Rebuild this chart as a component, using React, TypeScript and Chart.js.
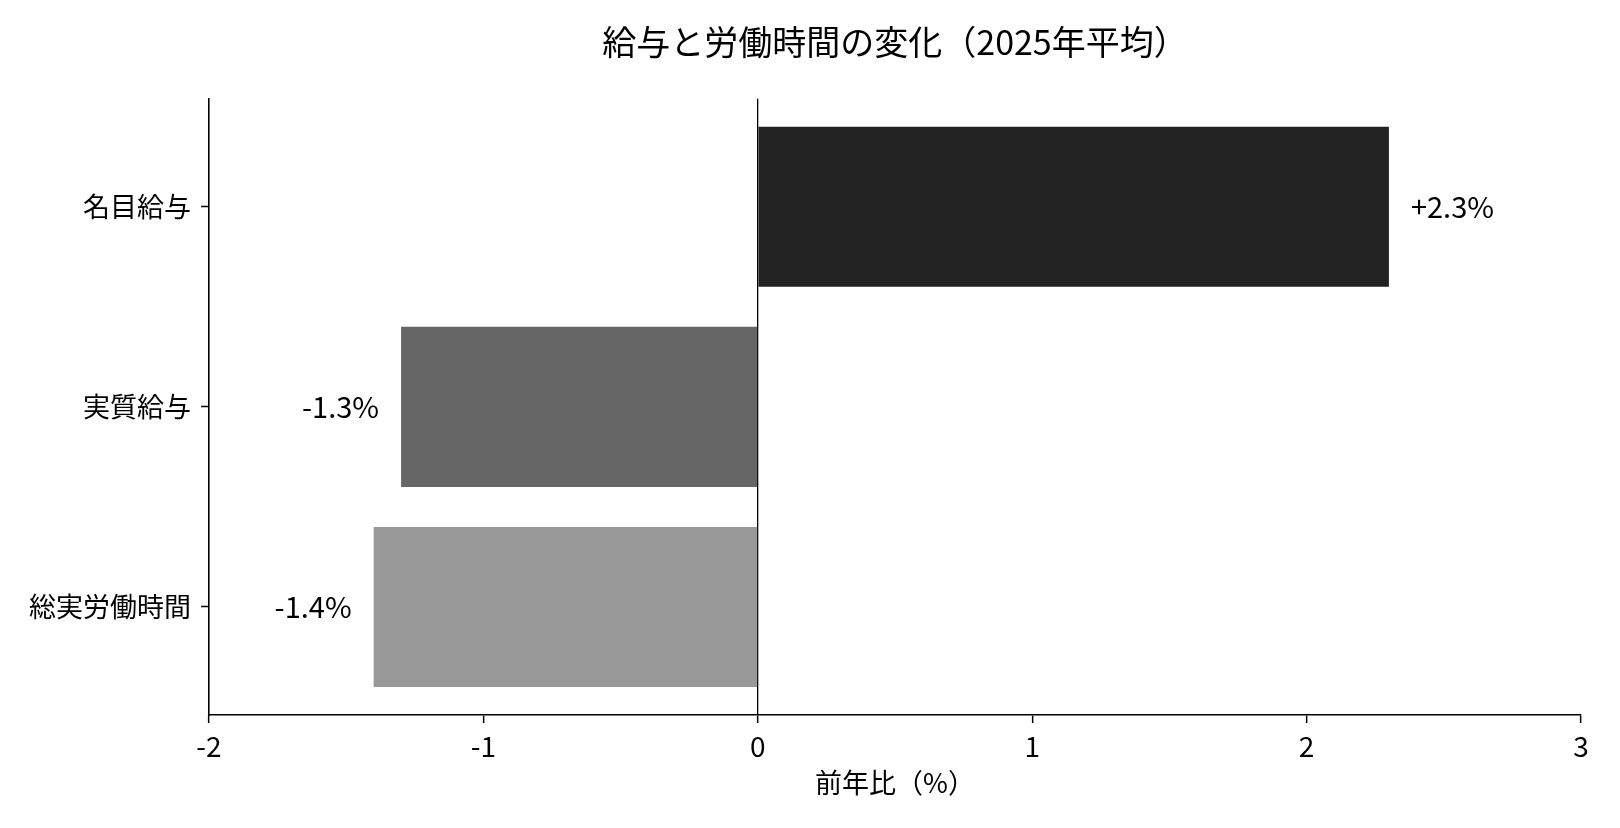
import { useEffect, useRef } from "react";
import { Chart, registerables } from "chart.js";

Chart.register(...registerables);

// データ
const categories = ["名目給与", "実質給与", "総実労働時間"];
const changes = [2.3, -1.3, -1.4];
const barColors = ["#222222", "#666666", "#999999"];
const xTicks = [-2, -1, 0, 1, 2, 3];

const FONT = "'Noto Sans CJK JP', 'Noto Sans', sans-serif";

const formatPct = (v: number) => (v > 0 ? "+" : "") + v.toFixed(1) + "%";

// バーの端に値ラベルを描く
const valueLabels = {
  id: "valueLabels",
  afterDatasetsDraw(chart: any) {
    const { ctx } = chart;
    const meta = chart.getDatasetMeta(0);
    ctx.save();
    ctx.font = `29px ${FONT}`;
    ctx.fillStyle = "#000";
    ctx.textBaseline = "middle";
    meta.data.forEach((bar: any, i: number) => {
      const v = changes[i];
      if (v >= 0) {
        ctx.textAlign = "left";
        ctx.fillText(formatPct(v), bar.x + 22, bar.y);
      } else {
        ctx.textAlign = "right";
        ctx.fillText(formatPct(v), bar.x - 22, bar.y);
      }
    });
    ctx.restore();
  },
};

export default function App() {
  const chartRef = useRef<Chart | null>(null);
  const canvasRef = useRef<HTMLCanvasElement>(null);

  useEffect(() => {
    if (!canvasRef.current) return;
    const ctx = canvasRef.current.getContext("2d");
    if (!ctx) return;

    if (chartRef.current) chartRef.current.destroy();

    chartRef.current = new Chart(ctx, {
      type: "bar",
      data: {
        datasets: [
          {
            data: changes.map((v, i) => ({ x: v, y: i })),
            backgroundColor: barColors,
            borderWidth: 0,
            barPercentage: 0.8,
            categoryPercentage: 1,
          },
        ],
      },
      options: {
        indexAxis: "y",
        animation: false,
        responsive: true,
        maintainAspectRatio: false,
        layout: { padding: { left: 0, right: 39, top: 0, bottom: 0 } },
        plugins: {
          legend: { display: false },
          tooltip: { enabled: false },
          title: {
            display: true,
            text: "給与と労働時間の変化（2025年平均）",
            fullSize: false,
            color: "#000",
            font: { family: FONT, size: 34, weight: "normal" },
            padding: { top: 22, bottom: 36 },
          },
        },
        scales: {
          x: {
            type: "linear",
            min: -2,
            max: 3,
            afterBuildTicks: (axis: any) => {
              axis.ticks = xTicks.map((v) => ({ value: v }));
            },
            afterFit: (scale: any) => {
              scale.height = 113;
            },
            ticks: {
              color: "#000",
              font: { family: FONT, size: 28 },
              padding: 7,
              callback: (v: any) => String(v),
            },
            grid: {
              color: (c: any) =>
                c.tick && c.tick.value === 0 ? "#000" : "rgba(0,0,0,0)",
              lineWidth: 1.3,
              tickColor: "#000",
              tickLength: 8,
              tickWidth: 1.5,
            },
            border: { display: true, color: "#000", width: 1.6 },
            title: {
              display: true,
              text: "前年比（%）",
              color: "#000",
              font: { family: FONT, size: 27 },
              padding: { top: 0, bottom: 29 },
            },
          },
          y: {
            type: "linear",
            min: -0.54,
            max: 2.54,
            reverse: true,
            offset: false,
            afterBuildTicks: (axis: any) => {
              axis.ticks = categories.map((_, i) => ({ value: i }));
            },
            afterFit: (scale: any) => {
              scale.width = 209;
            },
            ticks: {
              color: "#000",
              font: { family: FONT, size: 27 },
              padding: 10,
              callback: (v: any) => categories[Math.round(Number(v))],
            },
            grid: {
              offset: false,
              drawOnChartArea: false,
              tickColor: "#000",
              tickLength: 8,
              tickWidth: 1.5,
            },
            border: { display: true, color: "#000", width: 1.6 },
          },
        },
      },
      plugins: [valueLabels],
    });

    return () => {
      chartRef.current?.destroy();
      chartRef.current = null;
    };
  }, []);

  return (
    <div
      style={{
        position: "fixed",
        left: 0,
        top: 0,
        width: 1620,
        height: 828,
        background: "#fff",
      }}
    >
      <canvas ref={canvasRef} />
    </div>
  );
}
